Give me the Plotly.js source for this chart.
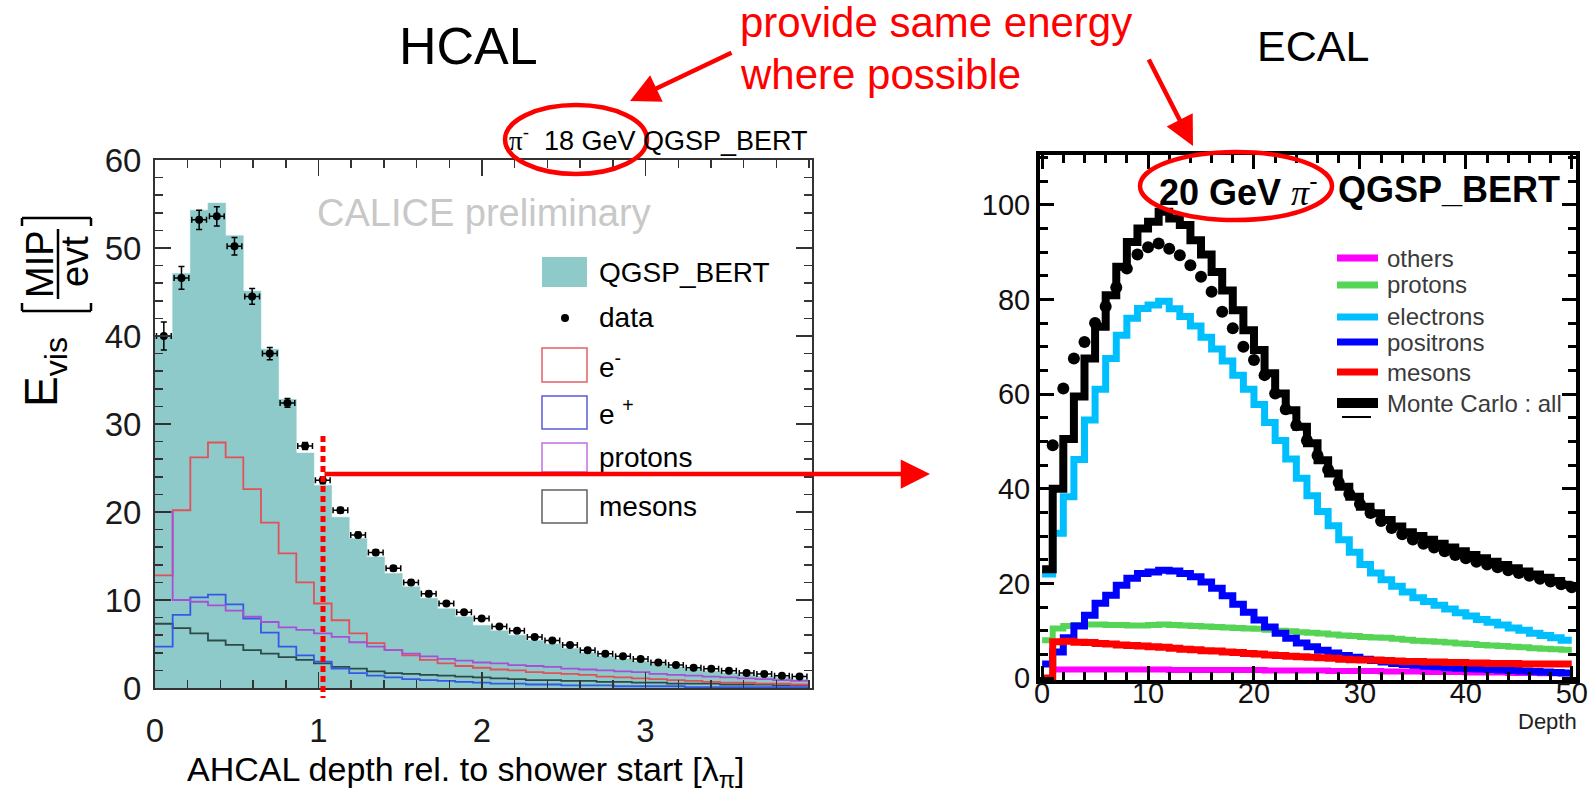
<!DOCTYPE html>
<html><head><meta charset="utf-8">
<script src="https://cdn.plot.ly/plotly-3.0.1.min.js"></script>
<style>html,body{margin:0;padding:0;background:#fff;}#chart{width:1592px;height:790px;}</style>
</head><body><div id="chart"></div>
<script>
// ---------------- HCAL (left) : 37 bins of 0.108 lambda_pi ----------------
const hcalBinWidth = 0.108;
const hcalData = [40.0, 46.6, 53.2, 53.6, 50.2, 44.5, 38.0, 32.4, 27.5, 23.6, 20.2, 17.4, 15.4, 13.6, 12.0, 10.7, 9.6, 8.6, 7.9, 7.0, 6.5, 5.8, 5.4, 4.9, 4.3, 3.9, 3.6, 3.3, 2.9, 2.6, 2.3, 2.2, 1.96, 1.7, 1.6, 1.4, 1.3];
const hcalDataErr = [1.6, 1.3, 1.1, 1.1, 1.0, 0.9, 0.7, 0.5, 0.4, 0.4, 0.3, 0.3, 0.3, 0.3, 0.3, 0.3, 0.2, 0.2, 0.2, 0.2, 0.2, 0.2, 0.2, 0.2, 0.2, 0.2, 0.2, 0.2, 0.2, 0.2, 0.2, 0.2, 0.2, 0.2, 0.2, 0.2, 0.2];
const hcalMC = [40.0, 47.1, 54.3, 55.1, 51.4, 45.1, 38.5, 32.8, 26.7, 23.0, 19.4, 17.0, 14.9, 13.0, 11.5, 10.2, 9.0, 8.1, 7.1, 6.5, 6.0, 5.4, 5.0, 4.5, 4.0, 3.6, 3.3, 3.0, 2.7, 2.4, 2.1, 1.9, 1.7, 1.5, 1.3, 1.2, 1.0];
const hcalEminus = [12.8, 20.2, 26.2, 27.9, 26.2, 22.6, 18.8, 15.3, 12.0, 9.6, 7.7, 6.2, 5.1, 4.3, 3.7, 3.2, 2.8, 2.5, 2.3, 2.1, 2.0, 1.8, 1.7, 1.6, 1.5, 1.3, 1.2, 1.1, 1.0, 0.9, 0.8, 0.7, 0.6, 0.6, 0.5, 0.5, 0.4];
const hcalEplus = [4.7, 8.3, 10.3, 10.6, 9.5, 7.9, 6.3, 4.7, 3.7, 3.0, 2.2, 1.7, 1.4, 1.2, 1.0, 0.9, 0.8, 0.7, 0.6, 0.5, 0.5, 0.4, 0.4, 0.3, 0.3, 0.3, 0.2, 0.2, 0.2, 0.2, 0.1, 0.1, 0.1, 0.1, 0.1, 0.1, 0.1];
const hcalProtons = [20.0, 10.0, 9.8, 9.4, 8.8, 8.1, 7.5, 6.9, 6.6, 6.2, 5.8, 5.2, 4.7, 4.3, 3.9, 3.6, 3.3, 3.1, 2.9, 2.8, 2.6, 2.5, 2.4, 2.2, 2.1, 2.0, 1.9, 1.8, 1.6, 1.5, 1.4, 1.3, 1.2, 1.1, 1.0, 0.9, 0.8];
const hcalMesons = [7.3, 6.8, 6.2, 5.4, 4.9, 4.3, 3.9, 3.5, 3.2, 2.8, 2.4, 2.2, 1.9, 1.7, 1.6, 1.5, 1.4, 1.3, 1.2, 1.1, 1.0, 0.9, 0.9, 0.8, 0.8, 0.7, 0.7, 0.6, 0.6, 0.5, 0.5, 0.5, 0.4, 0.4, 0.4, 0.3, 0.3];
const hcalXTicks = [0, 1, 2, 3];

// ---------------- ECAL (right) : 50 depth bins ----------------
const ecalOthers = [0, 1.8, 1.8, 1.8, 1.8, 1.8, 1.8, 1.8, 1.8, 1.8, 1.8, 1.8, 1.7, 1.7, 1.7, 1.7, 1.7, 1.7, 1.7, 1.7, 1.7, 1.6, 1.6, 1.6, 1.6, 1.6, 1.6, 1.5, 1.5, 1.5, 1.5, 1.5, 1.4, 1.4, 1.4, 1.4, 1.3, 1.3, 1.3, 1.3, 1.2, 1.2, 1.2, 1.2, 1.1, 1.1, 1.1, 1.0, 1.0, 1.0];
const ecalProtons = [8.0, 10.5, 11.0, 11.2, 11.3, 11.3, 11.2, 11.2, 11.1, 11.1, 11.2, 11.3, 11.2, 11.1, 11.0, 10.9, 10.8, 10.7, 10.6, 10.5, 10.4, 10.2, 10.0, 9.9, 9.7, 9.6, 9.4, 9.2, 9.0, 8.9, 8.7, 8.6, 8.5, 8.3, 8.1, 7.9, 7.8, 7.7, 7.5, 7.3, 7.2, 7.0, 6.9, 6.8, 6.6, 6.5, 6.3, 6.2, 6.1, 6.0];
const ecalElectrons = [22.0, 30.6, 38.3, 46.2, 54.5, 61.0, 67.5, 72.4, 76.0, 78.1, 78.8, 79.6, 78.0, 76.4, 74.4, 72.0, 69.5, 67.0, 64.0, 61.0, 57.8, 54.0, 50.2, 46.3, 42.2, 38.5, 35.2, 32.2, 29.2, 26.6, 24.0, 22.2, 20.8, 19.4, 18.2, 17.0, 16.2, 15.4, 14.6, 13.8, 13.1, 12.4, 11.8, 11.2, 10.6, 10.1, 9.5, 9.0, 8.5, 8.0];
const ecalPositrons = [3.0, 5.5, 8.5, 11.0, 13.3, 15.8, 17.5, 19.6, 21.1, 22.1, 22.4, 22.8, 22.6, 22.1, 21.4, 20.3, 19.0, 17.4, 15.6, 13.9, 12.3, 10.8, 9.5, 8.4, 7.4, 6.6, 5.9, 5.3, 4.8, 4.4, 4.0, 3.7, 3.4, 3.1, 2.9, 2.7, 2.5, 2.4, 2.2, 2.1, 2.0, 1.9, 1.8, 1.7, 1.6, 1.5, 1.4, 1.3, 1.2, 1.1];
const ecalMesons = [0, 7.7, 7.8, 7.6, 7.5, 7.3, 7.2, 7.0, 6.9, 6.8, 6.6, 6.5, 6.3, 6.1, 6.0, 5.8, 5.7, 5.5, 5.4, 5.2, 5.1, 4.9, 4.8, 4.6, 4.5, 4.4, 4.3, 4.2, 4.0, 3.9, 3.8, 3.8, 3.7, 3.6, 3.5, 3.5, 3.4, 3.4, 3.3, 3.3, 3.2, 3.2, 3.1, 3.1, 3.1, 3.0, 3.0, 3.0, 3.0, 3.0];
const ecalMCAll = [23.0, 40.0, 50.5, 59.5, 67.5, 74.2, 80.9, 86.9, 92.1, 95.0, 96.4, 98.5, 97.1, 95.7, 92.5, 89.5, 85.8, 81.9, 77.7, 73.5, 69.3, 64.4, 60.1, 56.6, 53.1, 49.6, 46.0, 43.2, 40.4, 38.3, 36.2, 34.8, 33.4, 32.0, 30.8, 30.0, 29.2, 28.4, 27.6, 26.8, 26.0, 25.3, 24.6, 23.9, 23.2, 22.5, 21.9, 21.2, 20.5, 19.7];
const ecalDataDepth = [1,2,3,4,5,6,7,8,9,10,11,12,13,14,15,16,17,18,19,20,21,22,23,24,25,26,27,28,29,30,31,32,33,34,35,36,37,38,39,40,41,42,43,44,45,46,47,48,49,50];
const ecalData = [49.2, 61.2, 67.5, 71.0, 75.0, 78.5, 82.5, 86.5, 89.5, 91.0, 91.8, 90.7, 89.3, 87.2, 84.8, 81.6, 77.4, 73.9, 70.0, 67.2, 64.0, 60.1, 56.8, 53.4, 50.2, 47.0, 44.0, 41.3, 38.9, 36.8, 34.9, 33.2, 31.7, 30.4, 29.3, 28.4, 27.6, 26.8, 26.0, 25.3, 24.6, 24.0, 23.4, 22.8, 22.2, 21.6, 21.0, 20.4, 19.8, 19.2];
const ecalXTick = 10, ecalYTick = 20;

// ---------------- helpers ----------------
const W = 1592, H = 790;
const px = v => v / W, py = v => 1 - v / H;
function edges(n, w){ return Array.from({length:n+1}, (_, i) => i * w); }
function centers(n, w){ return Array.from({length:n}, (_, i) => (i + 0.5) * w); }
function step(vals, e){ return {x: e, y: vals.concat([vals[vals.length-1]])}; }

const hE = edges(hcalData.length, hcalBinWidth);
const eE = edges(ecalMCAll.length, 1);
const FONT = 'Liberation Sans, Arial, Helvetica, sans-serif';

const traces = [];
function hstep(vals, color, width, extra){
  const s = step(vals, hE);
  traces.push(Object.assign({type:'scatter', mode:'lines', x:s.x, y:s.y, xaxis:'x', yaxis:'y',
    line:{shape:'hv', color:color, width:width}, hoverinfo:'skip'}, extra||{}));
}
hstep(hcalMC, '#8ecaca', 0.5, {fill:'tozeroy', fillcolor:'#8ecaca'});
hstep(hcalMesons, '#2e4a48', 1.8);
hstep(hcalEplus, '#3558e6', 1.8);
hstep(hcalEminus, '#e2505a', 1.8);
hstep(hcalProtons, '#a650d6', 1.8);
traces.push({type:'scatter', mode:'markers', x:centers(hcalData.length, hcalBinWidth), y:hcalData,
  xaxis:'x', yaxis:'y', marker:{color:'#000', size:8},
  error_y:{type:'data', array:hcalDataErr, color:'#000', thickness:1.5, width:3},
  error_x:{type:'constant', value:0.045, color:'#000', thickness:1.5, width:3}, hoverinfo:'skip'});

function estep(vals, color, width){
  const s = step(vals, eE);
  traces.push({type:'scatter', mode:'lines', x:s.x, y:s.y, xaxis:'x2', yaxis:'y2',
    line:{shape:'hv', color:color, width:width}, hoverinfo:'skip'});
}
estep(ecalOthers, '#ff00ff', 6);
estep(ecalProtons, '#55d455', 6);
estep(ecalElectrons, '#00bfff', 7);
estep(ecalPositrons, '#0000ff', 7);
estep(ecalMesons, '#ff0000', 7);
estep(ecalMCAll, '#000000', 8);
traces.push({type:'scatter', mode:'markers', x:ecalDataDepth, y:ecalData, xaxis:'x2', yaxis:'y2',
  marker:{color:'#000', size:12}, hoverinfo:'skip'});

// ---------------- layout ----------------
const hAxisCommon = {ticks:'inside', showline:true, mirror:'allticks', linecolor:'#333', linewidth:2,
  tickcolor:'#333', tickwidth:1.5, showgrid:false, zeroline:false, tickfont:{family:FONT, size:33, color:'#1a1a1a'}};
const eAxisCommon = {ticks:'inside', showline:true, mirror:'allticks', linecolor:'#000', linewidth:4,
  tickcolor:'#000', tickwidth:3, showgrid:false, zeroline:false, tickfont:{family:FONT, size:29, color:'#111'}};

const shapes = [];
const annotations = [];
function txt(text, x, y, size, opts){
  annotations.push(Object.assign({xref:'paper', yref:'paper', x:px(x), y:py(y), text:text, showarrow:false,
    font:{family:FONT, size:size, color:'#000'}, xanchor:'center', yanchor:'middle'}, opts||{}));
}
function seg(x0,y0,x1,y1,color,width,dash){
  shapes.push({type:'line', xref:'paper', yref:'paper', x0:px(x0), y0:py(y0), x1:px(x1), y1:py(y1),
    line:{color:color, width:width, dash:dash||'solid'}});
}
function rect(x0,y0,x1,y1,lineColor,fill){
  shapes.push({type:'rect', xref:'paper', yref:'paper', x0:px(x0), y0:py(y0), x1:px(x1), y1:py(y1),
    line:{color:lineColor, width:lineColor==='none'?0:1.5}, fillcolor:fill||'rgba(0,0,0,0)'});
}
function ell(x0,y0,x1,y1){
  shapes.push({type:'circle', xref:'paper', yref:'paper', x0:px(x0), y0:py(y0), x1:px(x1), y1:py(y1),
    line:{color:'#ff0000', width:4.5}});
}
function arrow(hx,hy,tx,ty){
  annotations.push({xref:'paper', yref:'paper', x:px(hx), y:py(hy), ax:tx-hx, ay:ty-hy, axref:'pixel', ayref:'pixel',
    text:'', showarrow:true, arrowhead:2, arrowsize:1.3, arrowwidth:4.5, arrowcolor:'#ff0000', standoff:0, startstandoff:0});
}
const PI = "<span style='font-family:Liberation Serif, Times New Roman, serif'>π</span>";

// HCAL texts
txt('CALICE preliminary', 484, 213, 38, {font:{family:FONT, size:38, color:'#c8c8c8'}});
txt(PI + '<sup>-</sup>  18 GeV QGSP_BERT', 810, 139, 27, {xanchor:'right'});
txt('AHCAL depth rel. to shower start [λ<sub>π</sub>]', 466, 771, 34);
txt('E<sub>vis</sub>', 44, 372, 46, {textangle:-90});
txt('MIP', 40, 264, 38, {textangle:-90});
txt('evt', 75, 262, 38, {textangle:-90});
seg(58, 229, 58, 299, '#000', 2.5);
// brackets of the unit
seg(22, 218, 91, 218, '#000', 2.5); seg(22, 218, 22, 226, '#000', 2.5); seg(91, 218, 91, 226, '#000', 2.5);
seg(22, 311, 91, 311, '#000', 2.5); seg(22, 311, 22, 303, '#000', 2.5); seg(91, 311, 91, 303, '#000', 2.5);

// HCAL legend
rect(542, 257, 587, 287, 'none', '#8ecaca');
txt('QGSP_BERT', 597, 272, 28, {xanchor:'left'});
shapes.push({type:'circle', xref:'paper', yref:'paper', x0:px(561), y0:py(322), x1:px(569), y1:py(314), fillcolor:'#000', line:{width:0}});
txt('data', 597, 318, 28, {xanchor:'left'});
rect(542, 348, 587, 382, '#e2606a');
txt('e<sup>-</sup>', 597, 365, 28, {xanchor:'left'});
rect(542, 396, 587, 429, '#5a5ad8');
txt('e <sup>+</sup>', 597, 412, 28, {xanchor:'left'});
rect(542, 443, 587, 472, '#c070e6');
txt('protons', 597, 457, 28, {xanchor:'left'});
rect(542, 490, 587, 523, '#606060');
txt('mesons', 597, 506, 28, {xanchor:'left'});

// ECAL texts
txt('<b>20 GeV</b> <i>' + PI + '</i><sup>-</sup>', 1157, 190, 36, {xanchor:'left'});
txt('<b>QGSP_BERT</b>', 1336, 190, 36, {xanchor:'left'});
txt('Depth', 1579, 721, 22, {xanchor:'right', font:{family:FONT, size:22, color:'#222'}});
const ecalLegend = [['others', '#ff00ff', 258, 7], ['protons', '#55d455', 285, 7], ['electrons', '#00bfff', 317, 7],
  ['positrons', '#0000ff', 342, 7], ['mesons', '#ff0000', 372, 7], ['Monte Carlo : all', '#000000', 403, 10]];
ecalLegend.forEach(([name, col, y, w]) => {
  seg(1337, y, 1378, y, col, w);
  txt(name, 1385, y, 24, {xanchor:'left', font:{family:FONT, size:24, color:'#3a3a3a'}});
});
seg(1342, 417, 1371, 417, '#000', 2);

// big labels and red annotations
txt('HCAL', 468, 46, 52);
txt('ECAL', 1313, 46, 43);
txt('provide same energy', 738, 22, 42, {xanchor:'left', font:{family:FONT, size:42, color:'#ff0000'}});
txt('where possible', 738, 74, 42, {xanchor:'left', font:{family:FONT, size:42, color:'#ff0000'}});
ell(505, 105, 647, 174);
ell(1140, 152, 1332, 220);
seg(323, 436, 323, 698, '#ff0000', 5, '6px,4px');
arrow(630, 101, 733, 52);
arrow(1193, 146, 1148, 58);
arrow(930, 474, 323, 474);

const layout = {
  width:W, height:H, margin:{l:0, r:0, t:0, b:0}, paper_bgcolor:'#fff', plot_bgcolor:'#fff', showlegend:false,
  font:{family:FONT},
  xaxis:Object.assign({}, hAxisCommon, {domain:[px(155), px(812)], range:[0, 4.018], tickmode:'array', tickvals:hcalXTicks,
    ticklen:16, anchor:'y', ticklabelstandoff:12,
    minor:{dtick:0.2, tick0:0, ticks:'inside', ticklen:8, tickcolor:'#333', tickwidth:1.5, showgrid:false}}),
  yaxis:Object.assign({}, hAxisCommon, {domain:[py(688), py(160)], range:[0, 60], dtick:10, tick0:0,
    ticklen:16, anchor:'x', ticklabelstandoff:5,
    minor:{dtick:2, tick0:0, ticks:'inside', ticklen:8, tickcolor:'#333', tickwidth:1.5, showgrid:false}}),
  xaxis2:Object.assign({}, eAxisCommon, {domain:[px(1040), px(1576)], range:[-0.2, 50.4], dtick:ecalXTick, tick0:0,
    ticklen:14, anchor:'y2', ticklabelstandoff:-16,
    minor:{dtick:2, tick0:0, ticks:'inside', ticklen:8, tickcolor:'#000', tickwidth:3, showgrid:false}}),
  yaxis2:Object.assign({}, eAxisCommon, {domain:[py(680), py(155)], range:[-0.4, 110.5], dtick:ecalYTick, tick0:0,
    ticklen:14, anchor:'x2', ticklabelstandoff:0,
    minor:{dtick:5, tick0:0, ticks:'inside', ticklen:8, tickcolor:'#000', tickwidth:3, showgrid:false}}),
  shapes:shapes, annotations:annotations
};
Plotly.newPlot('chart', traces, layout, {displayModeBar:false, staticPlot:true});
</script></body></html>
